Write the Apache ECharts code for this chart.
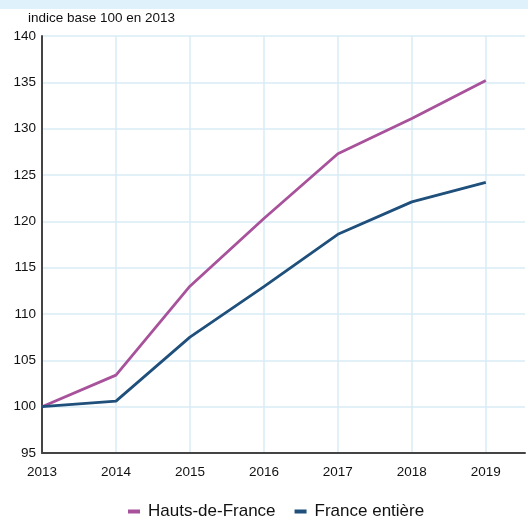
<!DOCTYPE html>
<html>
<head>
<meta charset="utf-8">
<script src="https://cdn.jsdelivr.net/npm/echarts@6/dist/echarts.min.js"></script>
<style>
  html, body { margin: 0; padding: 0; background: #fff; }
  #chart { width: 528px; height: 525px; }
</style>
</head>
<body>
<div id="chart"></div>
<script>
// annees et indices (base 100 en 2013)
const years = [2013, 2014, 2015, 2016, 2017, 2018, 2019];
const hautsDeFrance = [100, 103.4, 113.0, 120.3, 127.3, 131.1, 135.2];
const franceEntiere = [100, 100.6, 107.5, 112.95, 118.6, 122.1, 124.2];

const font = '"Liberation Sans", Arial, sans-serif';
const toPairs = (vals) => vals.map((v, i) => [years[i], v]);

let chart = echarts.init(document.getElementById('chart'));
chart.setOption({
  animation: false,
  textStyle: { fontFamily: font },
  graphic: [
    {
      type: 'rect',
      shape: { x: 0, y: 0, width: 528, height: 9 },
      style: { fill: '#dff1fa' },
    },
  ],
  title: {
    text: 'indice base 100 en 2013',
    left: 23,
    top: 6,
    textStyle: { fontFamily: font, fontSize: 13.5, fontWeight: 'normal', color: '#111' },
  },
  legend: {
    bottom: 0,
    left: 123,
    itemWidth: 12,
    itemHeight: 4,
    itemGap: 19,
    icon: 'rect',
    textStyle: { fontFamily: font, fontSize: 17, color: '#111', padding: [0, 0, 0, 3] },
    data: ['Hauts-de-France', 'France entière'],
  },
  grid: {
    left: 42,
    right: 2,
    top: 36,
    bottom: 72,
  },
  xAxis: {
    type: 'value',
    min: 2013,
    max: 2019.53,
    interval: 1,
    axisLine: { show: true, lineStyle: { color: '#444', width: 2 } },
    axisTick: { show: false },
    axisLabel: {
      color: '#111',
      fontSize: 13.5,
      margin: 12,
      formatter: (v) => (Number.isInteger(v) ? String(v) : ''),
    },
    splitLine: {
      show: true,
      lineStyle: {
        // pas de trait sur le bord droit
        color: ['#d8ebf6', '#d8ebf6', '#d8ebf6', '#d8ebf6', '#d8ebf6', '#d8ebf6', '#d8ebf6', 'rgba(0,0,0,0)'],
        width: 1.5,
      },
    },
  },
  yAxis: {
    type: 'value',
    min: 95,
    max: 140,
    interval: 5,
    axisLine: { show: true, lineStyle: { color: '#444', width: 2 } },
    axisTick: { show: false },
    axisLabel: { color: '#111', fontSize: 13.5, margin: 6 },
    splitLine: { lineStyle: { color: '#d8ebf6', width: 1.5 } },
  },
  series: [
    {
      name: 'Hauts-de-France',
      type: 'line',
      data: toPairs(hautsDeFrance),
      showSymbol: false,
      symbol: 'none',
      color: '#a8529c',
      lineStyle: { width: 2.8 },
    },
    {
      name: 'France entière',
      type: 'line',
      data: toPairs(franceEntiere),
      showSymbol: false,
      symbol: 'none',
      color: '#1f4f7b',
      lineStyle: { width: 2.8 },
    },
  ],
});
</script>
</body>
</html>
